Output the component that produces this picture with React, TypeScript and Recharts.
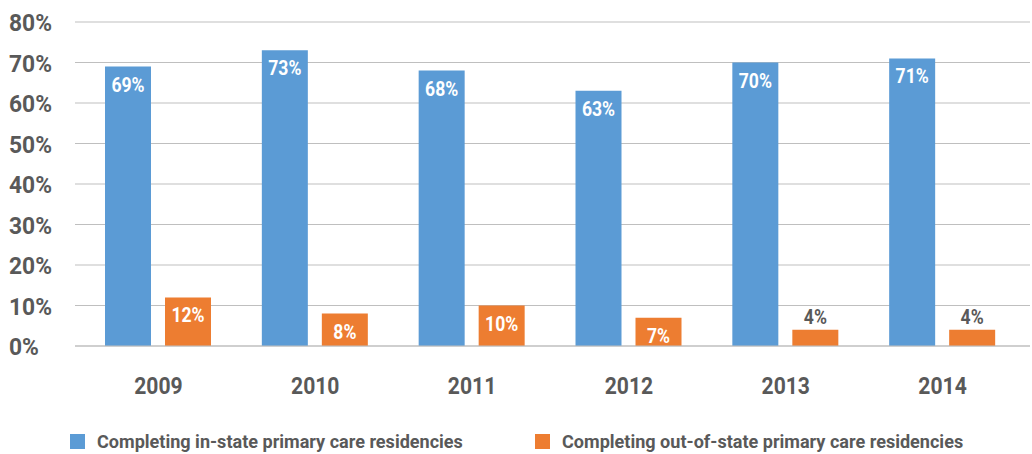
import React from "react";
import { BarChart, Bar, XAxis, YAxis, CartesianGrid, LabelList, Legend } from "recharts";

const years = ["2009", "2010", "2011", "2012", "2013", "2014"];
const inState = [69, 73, 68, 63, 70, 71];
const outOfState = [12, 8, 10, 7, 4, 4];
const yTicks = [0, 10, 20, 30, 40, 50, 60, 70, 80];
const seriesNames = [
  "Completing in-state primary care residencies",
  "Completing out-of-state primary care residencies",
];

const BLUE = "#5b9bd5";
const ORANGE = "#ed7d31";
const TEXT = "#595959";
const FONT = "Roboto, sans-serif";

const data = years.map((year, i) => ({ year, inState: inState[i], outOfState: outOfState[i] }));

// condensed look: squeeze the text horizontally
const NarrowText = ({ x, y, anchor = "middle", fill = TEXT, size, scale = 0.88, children }: any) => (
  <text
    transform={`translate(${x},${y}) scale(${scale},1)`}
    textAnchor={anchor}
    fill={fill}
    fontSize={size}
    fontWeight="bold"
    fontFamily={FONT}
  >
    {children}
  </text>
);

// labels go inside the bar, except tiny bars where they sit on top in gray
const BarLabel = (props: any) => {
  const { x, y, width, value } = props;
  const cx = x + width / 2;
  if (value < 6) {
    return <NarrowText x={cx} y={y - 6} size={20}>{value}%</NarrowText>;
  }
  return <NarrowText x={cx} y={y + 25} size={20} fill="#fff">{value}%</NarrowText>;
};

const YTick = (props: any) => {
  const { y, payload } = props;
  return <NarrowText x={9} y={y + 9} anchor="start" size={24} scale={0.95}>{payload.value}%</NarrowText>;
};

const XTick = (props: any) => {
  const { x, y, payload } = props;
  return <NarrowText x={x} y={y + 40} size={24}>{payload.value}</NarrowText>;
};

const LegendContent = () => (
  <div style={{ position: "relative", width: 1032, height: 24, fontFamily: FONT }}>
    {[BLUE, ORANGE].map((color, i) => (
      <div
        key={i}
        style={{
          position: "absolute",
          left: i === 0 ? 70 : 535,
          top: 0,
          display: "flex",
          alignItems: "center",
          whiteSpace: "nowrap",
        }}
      >
        <span style={{ display: "inline-block", width: 15, height: 15, background: color, marginRight: 12 }} />
        <span
          style={{
            color: TEXT,
            fontSize: 19,
            fontWeight: "bold",
            display: "inline-block",
            transform: "scaleX(0.95)",
            transformOrigin: "left center",
          }}
        >
          {seriesNames[i]}
        </span>
      </div>
    ))}
  </div>
);

export default function App() {
  return (
    <div style={{ position: "absolute", left: 0, top: 0, width: 1032, height: 454, background: "#fff" }}>
      <BarChart
        width={1032}
        height={454}
        data={data}
        margin={{ top: 22, right: 2, left: 0, bottom: 16 }}
        barCategoryGap={25}
        barGap={14}
      >
        <CartesianGrid vertical={false} stroke="#bfbfbf" strokeWidth={1.2} />
        <XAxis
          dataKey="year"
          height={68}
          axisLine={{ stroke: "#bfbfbf", strokeWidth: 1.2 }}
          tickLine={false}
          tick={<XTick />}
          padding={{ left: 5, right: 9 }}
          interval={0}
        />
        <YAxis
          width={75}
          domain={[0, 80]}
          ticks={yTicks}
          axisLine={false}
          tickLine={false}
          tick={<YTick />}
          interval={0}
        />
        <Legend
          layout="vertical"
          align="center"
          verticalAlign="bottom"
          content={<LegendContent />}
          wrapperStyle={{ position: "absolute", top: 430, left: 0, width: 1032 }}
        />
        <Bar dataKey="inState" name={seriesNames[0]} fill={BLUE} barSize={46} isAnimationActive={false}>
          <LabelList dataKey="inState" content={<BarLabel />} />
        </Bar>
        <Bar dataKey="outOfState" name={seriesNames[1]} fill={ORANGE} barSize={46} isAnimationActive={false}>
          <LabelList dataKey="outOfState" content={<BarLabel />} />
        </Bar>
      </BarChart>
    </div>
  );
}
